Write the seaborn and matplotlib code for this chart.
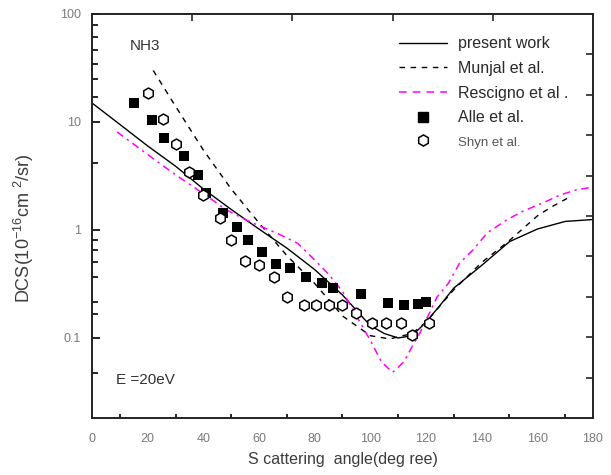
import numpy as np
import pandas as pd
import matplotlib
matplotlib.use("Agg")
import matplotlib.pyplot as plt
from matplotlib.lines import Line2D
from matplotlib.ticker import FixedLocator, NullFormatter, NullLocator
import seaborn as sns

# Elastic DCS for NH3 at E = 20 eV
present_angle = [0, 10, 20, 30, 40, 50, 60, 70, 80, 90, 100, 105, 110, 115, 120, 125, 130, 140, 150, 160, 170, 180]
present_dcs = [15, 9.5, 6.0, 3.9, 2.4, 1.55, 1.02, 0.68, 0.43, 0.25, 0.13, 0.11, 0.10, 0.105, 0.14, 0.20, 0.29, 0.47, 0.78, 1.02, 1.20, 1.25]

munjal_angle = [22, 30, 40, 50, 57, 65, 70, 80, 90, 100, 107, 115, 120, 130, 140, 150, 160, 165, 171]
munjal_dcs = [30, 14, 5.5, 2.4, 1.44, 0.82, 0.58, 0.32, 0.16, 0.105, 0.098, 0.11, 0.14, 0.28, 0.5, 0.80, 1.35, 1.63, 1.98]

rescigno_angle = [9, 17, 24, 30, 36, 42, 48, 55, 61, 67, 74, 79, 85, 90, 95, 100, 104, 108, 112, 115, 118, 124, 128,
                  132, 137, 142, 149, 155, 162, 168, 174, 180]
rescigno_dcs = [8.1, 5.7, 4.2, 3.25, 2.55, 2.0, 1.55, 1.25, 1.07, 0.92, 0.75, 0.56, 0.39, 0.27, 0.16, 0.095, 0.06,
                0.048, 0.06, 0.083, 0.114, 0.24, 0.32, 0.49, 0.66, 0.94, 1.24, 1.5, 1.78, 2.1, 2.35, 2.5]

alle_angle = [15, 21.5, 26, 33, 38, 41, 47, 52, 56, 61, 66, 71, 77, 82.5, 86.5, 96.5, 106.5, 112, 117, 120]
alle_dcs = [15, 10.5, 7.1, 4.8, 3.2, 2.2, 1.45, 1.07, 0.80, 0.63, 0.48, 0.44, 0.37, 0.32, 0.29, 0.255, 0.21, 0.20,
            0.205, 0.215]

shyn_angle = [20, 25.5, 30, 35, 40, 46, 50, 55, 60, 65.5, 70, 76, 80.5, 85, 90, 95, 100.5, 105.5, 111, 115, 121]
shyn_dcs = [18.5, 10.7, 6.3, 3.45, 2.1, 1.3, 0.80, 0.52, 0.47, 0.37, 0.24, 0.20, 0.20, 0.20, 0.20, 0.17, 0.138,
            0.138, 0.138, 0.107, 0.138]

x_ticks = [0, 20, 40, 60, 80, 100, 120, 140, 160, 180]
y_ticks = [0.1, 1, 10, 100]
y_tick_labels = ["0.1", "1", "10", "100"]

sns.set_style("white")
plt.rcParams["font.family"] = ["Liberation Sans", "DejaVu Sans"]
plt.rcParams["mathtext.fontset"] = "custom"
plt.rcParams["mathtext.rm"] = "Liberation Sans"
plt.rcParams["mathtext.it"] = "Liberation Sans"

fig = plt.figure(figsize=(6.11, 4.75), dpi=100)
ax = fig.add_axes([92 / 611, 57 / 475, 501 / 611, 404 / 475])

magenta = "#ff00ff"
sns.lineplot(x=present_angle, y=present_dcs, ax=ax, color="black", lw=1.0, sort=False)
sns.lineplot(x=munjal_angle, y=munjal_dcs, ax=ax, color="black", lw=1.0, sort=False,
             linestyle=(0, (4, 4)))
sns.lineplot(x=rescigno_angle, y=rescigno_dcs, ax=ax, color=magenta, lw=1.1, sort=False,
             linestyle=(0, (5, 3, 1.5, 3)))
sns.scatterplot(x=alle_angle, y=alle_dcs, ax=ax, marker="s", color="black", s=50, linewidth=0, zorder=4)
sns.scatterplot(x=shyn_angle, y=shyn_dcs, ax=ax, marker="h", facecolor="white", edgecolor="black", s=62,
                linewidth=1.1, zorder=5)

ax.set_yscale("log")
ax.set_xlim(0, 180)
ax.set_ylim(10 ** -1.741, 100)

tick_grey = "#7a7a7a"
ax.set_xticks(x_ticks)
ax.set_xticklabels([str(t) for t in x_ticks])
ax.xaxis.set_minor_locator(FixedLocator([10, 30, 50, 70, 90, 110, 130, 150, 170]))
ax.set_yticks(y_ticks)
ax.set_yticklabels(y_tick_labels)
ax.yaxis.set_minor_locator(FixedLocator([79, 61, 46, 34.5, 25, 17, 4.2, 0.81, 0.65, 0.51, 0.37, 0.215, 0.166,
                                         0.047]))
ax.yaxis.set_minor_formatter(NullFormatter())
ax.tick_params(axis="x", which="major", direction="in", length=0, pad=11, labelsize=9, labelcolor=tick_grey)
ax.tick_params(axis="x", which="minor", direction="in", length=3, width=1.2, color="black")
ax.tick_params(axis="y", which="major", direction="in", length=6, width=1.2, pad=8, labelsize=9,
               labelcolor=tick_grey, color="black")
ax.tick_params(axis="y", which="minor", direction="in", length=4, width=1.2, color="black")

for side in ["left", "right", "top", "bottom"]:
    ax.spines[side].set_visible(True)
    ax.spines[side].set_color("#222222")
    ax.spines[side].set_linewidth(1.4)

# mirrored frame ticks on the top and right edges
top = ax.twiny()
top.set_xlim(0, 180)
top.set_xticks([36, 72, 108, 144])
top.tick_params(axis="x", direction="in", length=5, width=1.2, labeltop=False, top=True)
right = ax.twinx()
right.set_ylim(0, 10)
right.set_yticks(range(1, 10))
right.yaxis.set_minor_locator(NullLocator())
right.tick_params(axis="y", direction="in", length=5, width=1.2, labelright=False, right=True)
for a in (top, right):
    for s in a.spines.values():
        s.set_visible(False)

label_color = "#3c3c3c"
ax.set_xlabel("S cattering  angle(deg ree)", fontsize=11.5, color=label_color, labelpad=5)
ax.set_ylabel(r"DCS(10$^{-16}$cm $^{2}$/sr)", fontsize=13, color=label_color)
ax.yaxis.set_label_coords(-0.112, 0.47)

ax.text(0.076, 0.92, "NH3", transform=ax.transAxes, fontsize=11, color="#333333", va="center")
ax.text(0.047, 0.094, "E =20eV", transform=ax.transAxes, fontsize=11, color="#333333", va="center")

handles = [
    Line2D([], [], color="black", lw=1.0),
    Line2D([], [], color="black", lw=1.0, linestyle=(0, (4, 4))),
    Line2D([], [], color=magenta, lw=1.1, linestyle=(0, (5, 4))),
    Line2D([], [], color="black", marker="s", markersize=7, linestyle="none"),
    Line2D([], [], color="black", marker="h", markerfacecolor="white", markersize=8, linestyle="none",
           markeredgewidth=1.1),
]
labels = ["present work", "Munjal et al.", "Rescigno et al .", "Alle et al.", "Shyn et al."]
leg = ax.legend(handles, labels, loc="upper right", bbox_to_anchor=(0.98, 0.98), frameon=False, fontsize=11.5,
                handlelength=3.0, handletextpad=0.7, labelspacing=0.6)
for t in leg.get_texts():
    t.set_color("#2a2a2a")
leg.get_texts()[4].set_fontsize(9.5)
leg.get_texts()[4].set_color("#555555")

fig.savefig("out.png", dpi=100)
